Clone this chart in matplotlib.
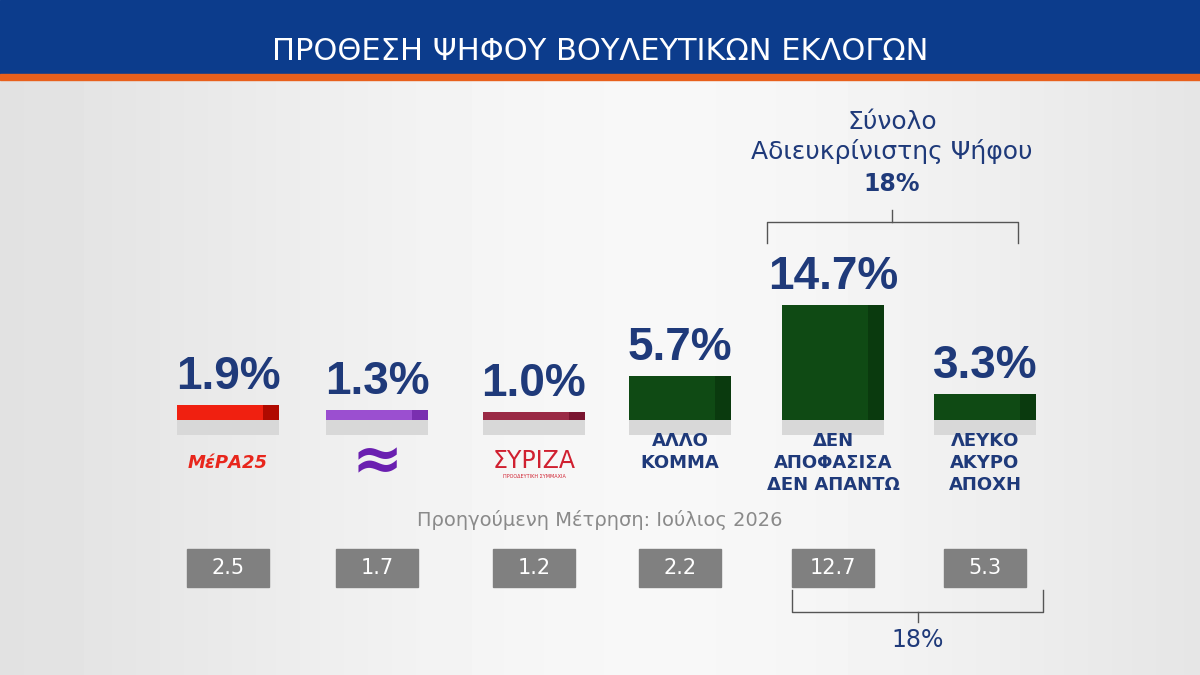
import numpy as np
import matplotlib.pyplot as plt
from matplotlib.patches import Rectangle

# ── Data ────────────────────────────────────────────
parties = ['ΜέΡΑ25', 'Πλεύση', 'ΣΥΡΙΖΑ', 'ΑΛΛΟ\nΚΟΜΜΑ', 'ΔΕΝ\nΑΠΟΦΑΣΙΣΑ\nΔΕΝ ΑΠΑΝΤΩ', 'ΛΕΥΚΟ\nΑΚΥΡΟ\nΑΠΟΧΗ']
current = [1.9, 1.3, 1.0, 5.7, 14.7, 3.3]
previous = [2.5, 1.7, 1.2, 2.2, 12.7, 5.3]
bar_colors = ['#f02010', '#9b4fd0', '#9a2a45', '#0f4a14', '#0f4a14', '#0f4a14']
dark_colors = ['#b00a00', '#7a2fb0', '#7a1530', '#0a3a0e', '#0a3a0e', '#0a3a0e']
undecided_total = 18

NAVY = '#1f3a7a'
fig = plt.figure(figsize=(12, 6.75), dpi=100)
ax = fig.add_axes([0, 0, 1, 1])
ax.set_xlim(0, 1200); ax.set_ylim(675, 0); ax.axis('off')

# background gradient
gx = np.linspace(0, 1, 300)
grad = 0.86 + 0.11 * np.exp(-((gx - 0.55) ** 2) / 0.2)
ax.imshow(np.tile(grad, (60, 1)), cmap='gray', vmin=0, vmax=1,
          extent=[0, 1200, 675, 0], aspect='auto', zorder=0)

# header
ax.add_patch(Rectangle((0, 0), 1200, 74, color='#0c3c8c', zorder=1))
ax.add_patch(Rectangle((0, 74), 1200, 6, color='#e8601c', zorder=1))
ax.text(600, 52, 'ΠΡΟΘΕΣΗ ΨΗΦΟΥ ΒΟΥΛΕΥΤΙΚΩΝ ΕΚΛΟΓΩΝ', color='white',
        fontsize=22, ha='center', va='center', zorder=2)

xs = np.array([228, 377, 534, 680, 833, 985])
base = 420
scale = 7.8
w = 102

heights = [v * scale for v in current]
ax.bar(xs, [-h for h in heights], width=w, bottom=base, color=bar_colors, zorder=3)
ax.bar(xs + w / 2 - 8, [-h for h in heights], width=16, bottom=base, color=dark_colors, zorder=3)
# reflection
ax.bar(xs, 15, width=w, bottom=base, color='#d8d8d8', zorder=2)

for x, h, v in zip(xs, heights, current):
    ax.text(x, base - h - 6, f'{v:.1f}%', color=NAVY, fontsize=33, fontweight='bold',
            family='Liberation Sans', ha='center', va='bottom', zorder=4)

# labels
ax.text(xs[0], 463, 'ΜέΡΑ25', color='#e8261c', fontsize=13, fontweight='bold',
        fontstyle='italic', ha='center', va='center', zorder=4)
ax.text(xs[1], 463, '≈', color='#6a1fb0', fontsize=44, fontweight='bold',
        ha='center', va='center', zorder=4)
ax.text(xs[2], 461, 'ΣΥΡΙΖΑ', color='#d02030', fontsize=17, ha='center', va='center', zorder=4)
ax.text(xs[2], 476, 'ΠΡΟΟΔΕΥΤΙΚΗ ΣΥΜΜΑΧΙΑ', color='#d02030', fontsize=3.5, ha='center', va='center', zorder=4)
for x, lab in zip(xs[3:], parties[3:]):
    ax.text(x, 432, lab, color=NAVY, fontsize=13, fontweight='bold',
            ha='center', va='top', linespacing=1.3, zorder=4)

ax.text(600, 520, 'Προηγούμενη Μέτρηση: Ιούλιος 2026', color='#8a8a8a',
        fontsize=14, ha='center', va='center', zorder=4)
for x, v in zip(xs, previous):
    ax.add_patch(Rectangle((x - 41, 549), 82, 38, color='#808080', zorder=3))
    ax.text(x, 568, f'{v:.1f}', color='white', fontsize=15, ha='center', va='center', zorder=4)

# brackets
ax.plot([767, 767, 1018, 1018], [243, 222, 222, 243], color='#555555', lw=1, zorder=4)
ax.plot([892, 892], [222, 210], color='#555555', lw=1, zorder=4)
ax.text(892, 137, 'Σύνολο\nΑδιευκρίνιστης Ψήφου', color=NAVY, fontsize=18,
        ha='center', va='center', linespacing=1.25, zorder=4)
ax.text(892, 184, f'{undecided_total}%', color=NAVY, fontsize=17, fontweight='bold',
        ha='center', va='center', zorder=4)
ax.plot([792, 792, 1043, 1043], [590, 612, 612, 590], color='#555555', lw=1, zorder=4)
ax.plot([918, 918], [612, 622], color='#555555', lw=1, zorder=4)
ax.text(918, 640, f'{undecided_total}%', color=NAVY, fontsize=17,
        ha='center', va='center', zorder=4)

fig.savefig('out.png', dpi=100)
